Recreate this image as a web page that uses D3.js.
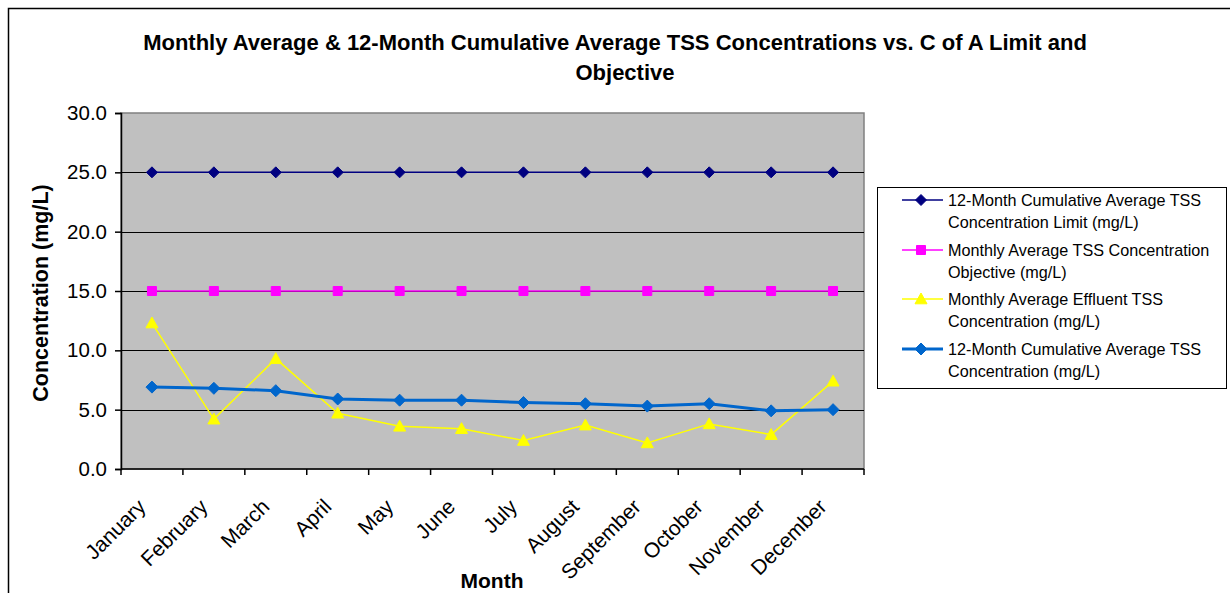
<!DOCTYPE html>
<html>
<head>
<meta charset="utf-8">
<script src="https://cdn.jsdelivr.net/npm/d3@7"></script>
<style>
  html, body { margin: 0; padding: 0; background: #ffffff; }
  svg { display: block; font-family: Arial, "Liberation Sans", sans-serif; }
</style>
</head>
<body>
<svg id="chart" width="1230" height="593"></svg>
<script>
// Months on the category axis
const months = ["January", "February", "March", "April", "May", "June",
  "July", "August", "September", "October", "November", "December"];

// Series values (mg/L)
const limitValues     = [25, 25, 25, 25, 25, 25, 25, 25, 25, 25, 25, 25];
const objectiveValues = [15, 15, 15, 15, 15, 15, 15, 15, 15, 15, 15, 15];
const effluentValues  = [12.3, 4.2, 9.3, 4.7, 3.6, 3.4, 2.4, 3.7, 2.2, 3.8, 2.9, 7.4];
const cumulativeValues = [6.9, 6.8, 6.6, 5.9, 5.8, 5.8, 5.6, 5.5, 5.3, 5.5, 4.9, 5.0];

// Value axis ticks
const yTicks = [0, 5, 10, 15, 20, 25, 30];

const seriesNames = [
  ["12-Month Cumulative Average TSS", "Concentration Limit (mg/L)"],
  ["Monthly Average TSS Concentration", "Objective (mg/L)"],
  ["Monthly Average Effluent TSS", "Concentration (mg/L)"],
  ["12-Month Cumulative Average TSS", "Concentration (mg/L)"]
];

const series = [
  { values: limitValues,      color: "#000080", width: 1.5, marker: "diamond",  r: 5.5 },
  { values: objectiveValues,  color: "#FF00FF", width: 1.5, marker: "square",   r: 4.5 },
  { values: effluentValues,   color: "#FFFF00", width: 1.5, marker: "triangle", r: 6 },
  { values: cumulativeValues, color: "#0066CC", width: 3,   marker: "diamond",  r: 6 }
];

// Marker outlines centred on (0,0)
function markerPath(kind, r) {
  const p = d3.path();
  if (kind === "diamond") {
    p.moveTo(0, -r); p.lineTo(r, 0); p.lineTo(0, r); p.lineTo(-r, 0);
  } else if (kind === "square") {
    p.rect(-r, -r, 2 * r, 2 * r);
  } else {
    p.moveTo(0, -r); p.lineTo(r, r * 0.8); p.lineTo(-r, r * 0.8);
  }
  p.closePath();
  return p.toString();
}

const svg = d3.select("#chart");

// Outer chart frame
svg.append("rect")
  .attr("x", 8.5).attr("y", 8.5)
  .attr("width", 1240).attr("height", 600)
  .attr("fill", "#ffffff").attr("stroke", "#000000").attr("stroke-width", 1.5);

const plot = { left: 121, right: 864, top: 113, bottom: 469 };

const x = d3.scaleBand().domain(months).range([plot.left, plot.right]);
const y = d3.scaleLinear().domain([0, 30]).range([plot.bottom, plot.top]);

// Plot background
svg.append("rect")
  .attr("x", plot.left).attr("y", plot.top)
  .attr("width", plot.right - plot.left).attr("height", plot.bottom - plot.top)
  .attr("fill", "#C0C0C0").attr("stroke", "#808080").attr("stroke-width", 1.5);

// Horizontal gridlines
svg.append("g")
  .selectAll("line")
  .data(yTicks.filter(d => d > 0 && d < 30))
  .join("line")
  .attr("x1", plot.left).attr("x2", plot.right)
  .attr("y1", d => Math.round(y(d)) + 0.5).attr("y2", d => Math.round(y(d)) + 0.5)
  .attr("stroke", "#000000").attr("stroke-width", 1);

// Y axis
const yAxis = svg.append("g")
  .attr("transform", `translate(${plot.left},0)`)
  .call(d3.axisLeft(y).tickValues(yTicks).tickSize(6).tickPadding(8)
    .tickFormat(d3.format(".1f")));
yAxis.selectAll("path, line").attr("stroke", "#000000").attr("stroke-width", 1.5);
yAxis.selectAll("text")
  .attr("font-size", 20.5).attr("fill", "#000000")
  .attr("font-family", "Arial, 'Liberation Sans', sans-serif");

// X axis with ticks on category boundaries
const xAxis = svg.append("g")
  .attr("transform", `translate(0,${plot.bottom})`);
xAxis.append("line")
  .attr("x1", plot.left).attr("x2", plot.right)
  .attr("y1", 0).attr("y2", 0)
  .attr("stroke", "#000000").attr("stroke-width", 1.5);
const boundaries = months.map(m => x(m)).concat([plot.right]);
xAxis.selectAll("line.tick")
  .data(boundaries)
  .join("line")
  .attr("class", "tick")
  .attr("x1", d => d).attr("x2", d => d)
  .attr("y1", 0).attr("y2", 6)
  .attr("stroke", "#000000").attr("stroke-width", 1.5);

xAxis.selectAll("text.month")
  .data(months)
  .join("text")
  .attr("class", "month")
  .attr("transform", d => `translate(${x(d) + x.bandwidth() / 2 - 5},${39}) rotate(-45)`)
  .attr("text-anchor", "end")
  .attr("font-size", 21)
  .attr("fill", "#000000")
  .text(d => d);

// Lines and markers
const cx = d => x(d) + x.bandwidth() / 2;

series.forEach(s => {
  const line = d3.line().x((v, i) => cx(months[i])).y(v => y(v));
  svg.append("path")
    .datum(s.values)
    .attr("d", line)
    .attr("fill", "none")
    .attr("stroke", s.color)
    .attr("stroke-width", s.width);
  svg.append("g")
    .selectAll("path")
    .data(s.values)
    .join("path")
    .attr("transform", (v, i) => `translate(${cx(months[i])},${y(v)})`)
    .attr("d", markerPath(s.marker, s.r))
    .attr("fill", s.color)
    .attr("stroke", s.color)
    .attr("stroke-width", 1);
});

// Title
const title = svg.append("text")
  .attr("text-anchor", "middle")
  .attr("font-size", 22)
  .attr("font-weight", "bold")
  .attr("fill", "#000000");
title.append("tspan").attr("x", 615).attr("y", 50)
  .text("Monthly Average & 12-Month Cumulative Average TSS Concentrations vs. C of A Limit and");
title.append("tspan").attr("x", 625).attr("y", 80).text("Objective");

// Axis titles
svg.append("text")
  .attr("transform", `translate(48,${(plot.top + plot.bottom) / 2 + 2}) rotate(-90)`)
  .attr("text-anchor", "middle")
  .attr("font-size", 21.5)
  .attr("font-weight", "bold")
  .attr("fill", "#000000")
  .text("Concentration (mg/L)");

svg.append("text")
  .attr("x", 492).attr("y", 588)
  .attr("text-anchor", "middle")
  .attr("font-size", 21)
  .attr("font-weight", "bold")
  .attr("fill", "#000000")
  .text("Month");

// Legend
const legend = svg.append("g");
legend.append("rect")
  .attr("x", 877.5).attr("y", 187.5)
  .attr("width", 349).attr("height", 201)
  .attr("fill", "#ffffff").attr("stroke", "#000000").attr("stroke-width", 1);

const rowY = [200, 250, 299, 349];
series.forEach((s, i) => {
  const g = legend.append("g").attr("transform", `translate(0,${rowY[i]})`);
  g.append("line")
    .attr("x1", 902).attr("x2", 943).attr("y1", 0).attr("y2", 0)
    .attr("stroke", s.color).attr("stroke-width", s.width);
  g.append("path")
    .attr("transform", "translate(921,0)")
    .attr("d", markerPath(s.marker, s.r))
    .attr("fill", s.color).attr("stroke", s.color);
  const t = g.append("text")
    .attr("font-size", 16.2)
    .attr("fill", "#000000");
  t.append("tspan").attr("x", 948).attr("y", 6).text(seriesNames[i][0]);
  t.append("tspan").attr("x", 948).attr("y", 28).text(seriesNames[i][1]);
});
</script>
</body>
</html>
